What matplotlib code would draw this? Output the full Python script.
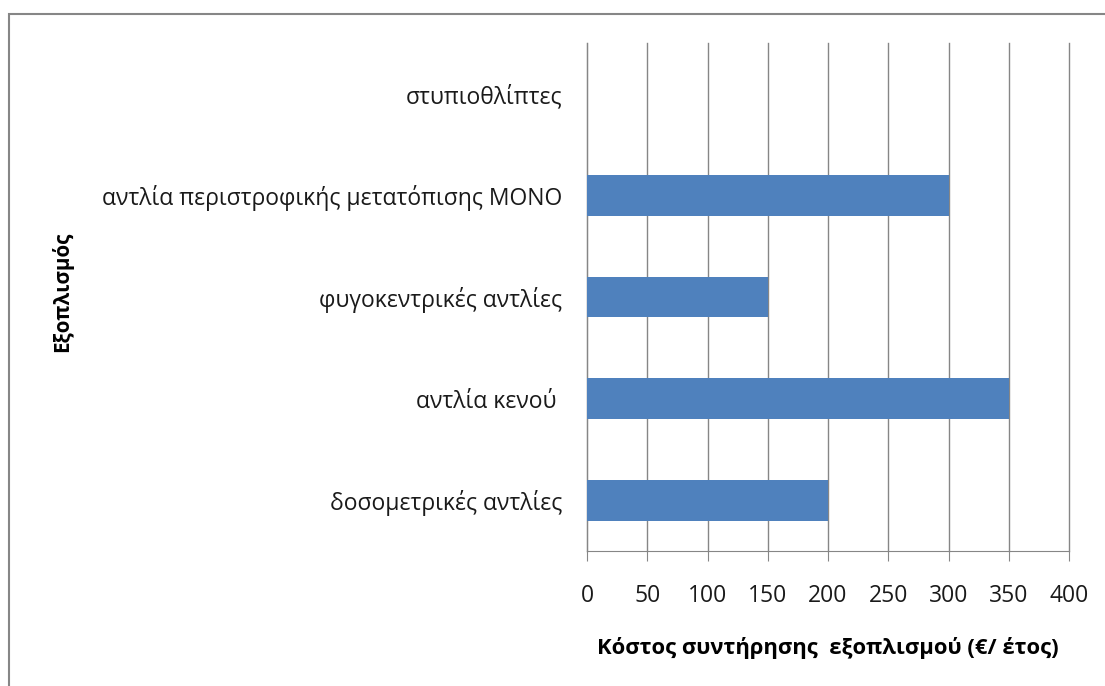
import matplotlib
matplotlib.use("Agg")
import matplotlib.pyplot as plt
from matplotlib.patches import Rectangle

plt.rcParams['font.family'] = ['Open Sans', 'DejaVu Sans']

# equipment, bottom to top
equipment = ["δοσομετρικές αντλίες", "αντλία κενού ", "φυγοκεντρικές αντλίες",
             "αντλία περιστροφικής μετατόπισης ΜΟΝΟ", "στυπιοθλίπτες"]
cost = [200, 350, 150, 300, 0]
xticks = [0, 50, 100, 150, 200, 250, 300, 350, 400]

W, H = 1105, 686
fig = plt.figure(figsize=(W / 100, H / 100), dpi=100)
fig.patch.set_facecolor("white")

# chart frame
fig.patches.append(Rectangle((9 / W, -0.1), 1.2, 1.1 - 14 / H, transform=fig.transFigure,
                             fill=False, edgecolor="#868686", linewidth=1.5))

ax = fig.add_axes([587 / W, 1 - 551 / H, (1069 - 587) / W, (551 - 43) / H])
grid_c = "#868686"
text_c = "#1a1a1a"

ax.barh(range(len(equipment)), cost, height=0.4, color="#4f81bd", zorder=3)
ax.set_xlim(0, 400)
ax.set_ylim(-0.5, len(equipment) - 0.5)
ax.set_xticks(xticks)
ax.set_xticklabels([str(t) for t in xticks])
ax.set_yticks(range(len(equipment)))
ax.set_yticklabels(equipment)

ax.grid(axis="x", color=grid_c, linewidth=1, zorder=0)
for line in ax.get_xgridlines():
    line.set_clip_on(False)
for s in ["top", "right"]:
    ax.spines[s].set_visible(False)
ax.spines["bottom"].set_color(grid_c)
ax.spines["left"].set_color(grid_c)
ax.tick_params(axis="x", length=7, color=grid_c, labelsize=16.5, pad=17, labelcolor=text_c)
ax.tick_params(axis="y", length=0, labelsize=16.5, pad=18, labelcolor=text_c)

fig.text(828 / W, 1 - 648 / H, "Κόστος συντήρησης  εξοπλισμού (€/ έτος)", fontsize=15.8,
         fontweight="bold", ha="center", va="center", color="black")
fig.text(62 / W, 1 - 292 / H, "Εξοπλισμός", rotation=90, fontsize=14.8, fontweight="bold",
         ha="center", va="center", color="black")

fig.savefig("out.png", dpi=100)
